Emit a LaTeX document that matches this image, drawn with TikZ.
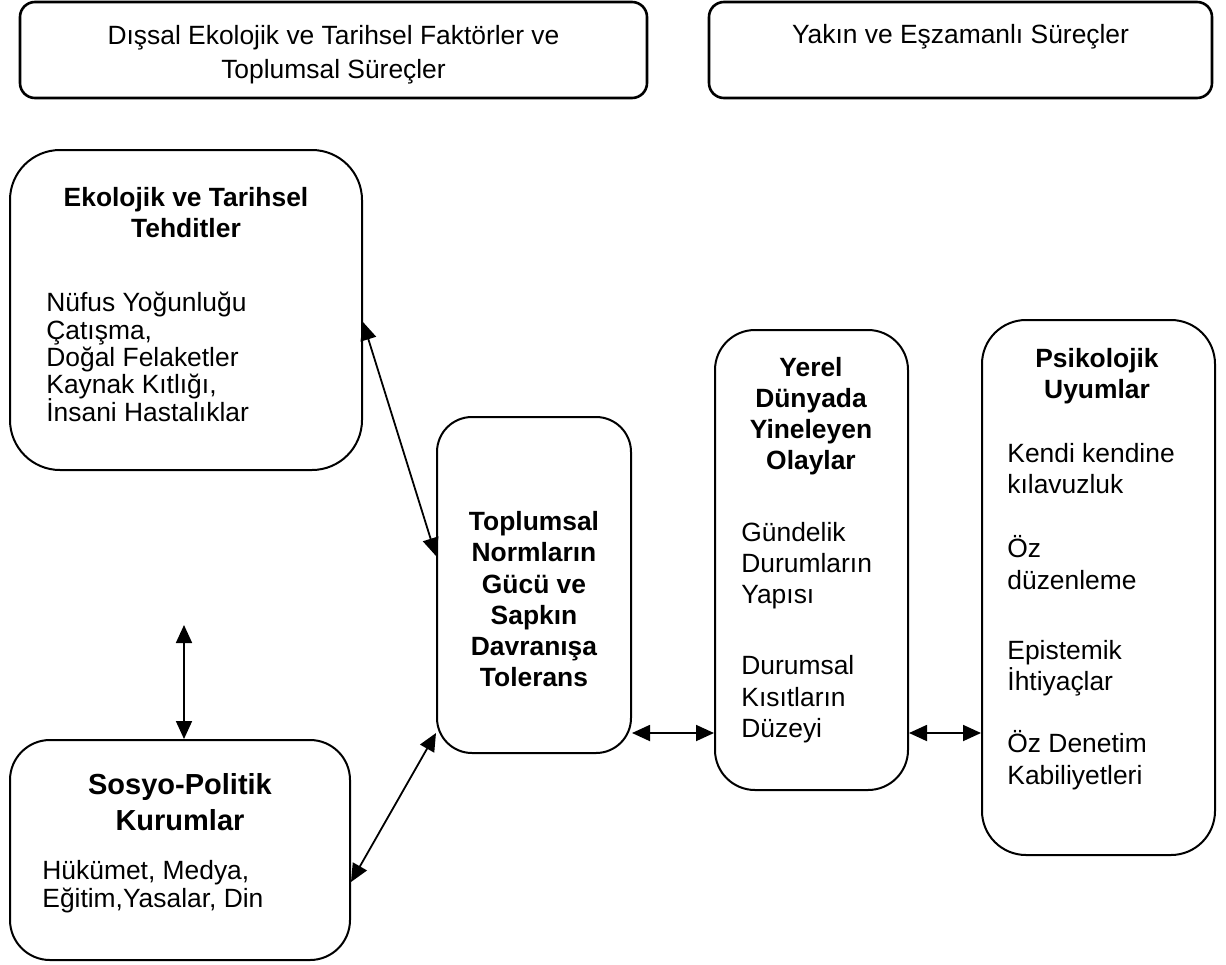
\documentclass[tikz,border=0pt]{standalone}
\usepackage{fontspec}
\setmainfont{Liberation Sans}
\usetikzlibrary{arrows.meta,calc}
\begin{document}
\begin{tikzpicture}[x=0.5pt,y=-0.5pt]
\tikzset{
  box/.style={draw, line width=1pt, inner sep=0pt},
  hdr/.style={draw, line width=1.3pt, rounded corners=7.5pt, inner sep=0pt},
  txt/.style={font=\fontsize{13.2}{15}\selectfont, inner sep=0pt},
  btxt/.style={font=\fontsize{13.2}{15}\selectfont\bfseries, inner sep=0pt},
  bigtxt/.style={font=\fontsize{14.5}{17}\selectfont\bfseries, inner sep=0pt},
  lft/.style={txt, anchor=base west},
  ctr/.style={txt, anchor=base},
  bctr/.style={btxt, anchor=base},
  biarrow/.style={{Triangle[length=9pt,width=8pt]}-{Triangle[length=9pt,width=8pt]}, line width=0.9pt},
}
\useasboundingbox (0,0) rectangle (1226,964);

% header boxes
\node[hdr, minimum width=313.5pt, minimum height=48pt] (hl) at (333.5,50) {};
\node[hdr, minimum width=251.5pt, minimum height=48pt] (hr) at (960.5,50) {};
\node[ctr] (hl1) at (333.5,44) {Dışsal Ekolojik ve Tarihsel Faktörler ve};
\node[ctr] (hl2) at (333.5,78) {Toplumsal Süreçler};
\node[ctr] (hr1) at (960.5,43) {Yakın ve Eşzamanlı Süreçler};

% main boxes
\node[box, rounded corners=25pt, minimum width=176pt, minimum height=160pt] (eco) at (186,310) {};
\node[box, rounded corners=20pt, minimum width=170pt, minimum height=110pt] (sos) at (180,850) {};
\node[box, rounded corners=17.5pt, minimum width=97pt, minimum height=168pt] (top) at (534,585) {};
\node[box, rounded corners=20pt, minimum width=96.5pt, minimum height=230pt] (yer) at (811.5,560) {};
\node[box, rounded corners=22pt, minimum width=116.5pt, minimum height=267.5pt] (psi) at (1098.5,587.5) {};

% eco texts
\node[bctr] (e1) at (186,206) {Ekolojik ve Tarihsel};
\node[bctr] (e2) at (186,237) {Tehditler};
\node[lft] (e3) at (46,311) {Nüfus Yoğunluğu};
\node[lft] (e4) at (46,339) {Çatışma,};
\node[lft] (e5) at (46,366) {Doğal Felaketler};
\node[lft] (e6) at (46,393) {Kaynak Kıtlığı,};
\node[lft] (e7) at (46,421) {İnsani Hastalıklar};

% sosyo texts
\node[bigtxt, anchor=base] (s1) at (180,794) {Sosyo-Politik};
\node[bigtxt, anchor=base] (s2) at (180,830) {Kurumlar};
\node[lft] (s3) at (42,879) {Hükümet, Medya,};
\node[lft] (s4) at (42,907) {Eğitim,Yasalar, Din};

% toplumsal texts
\node[bctr] (t1) at (534,530) {Toplumsal};
\node[bctr] (t2) at (534,561) {Normların};
\node[bctr] (t3) at (534,593) {Gücü ve};
\node[bctr] (t4) at (534,624) {Sapkın};
\node[bctr] (t5) at (534,655) {Davranışa};
\node[bctr] (t6) at (534,686) {Tolerans};

% yerel texts
\node[bctr] (y1) at (811,376) {Yerel};
\node[bctr] (y2) at (811,407) {Dünyada};
\node[bctr] (y3) at (811,438) {Yineleyen};
\node[bctr] (y4) at (811,469) {Olaylar};
\node[lft] (y5) at (741,541) {Gündelik};
\node[lft] (y6) at (741,572) {Durumların};
\node[lft] (y7) at (741,603) {Yapısı};
\node[lft] (y8) at (741,674) {Durumsal};
\node[lft] (y9) at (741,706) {Kısıtların};
\node[lft] (y10) at (741,737) {Düzeyi};

% psikolojik texts
\node[bctr] (p1) at (1097,367) {Psikolojik};
\node[bctr] (p2) at (1097,398) {Uyumlar};
\node[lft] (p3) at (1007,462) {Kendi kendine};
\node[lft] (p4) at (1007,493) {kılavuzluk};
\node[lft] (p5) at (1007,557) {Öz};
\node[lft] (p6) at (1007,589) {düzenleme};
\node[lft] (p7) at (1007,659) {Epistemik};
\node[lft] (p8) at (1007,690) {İhtiyaçlar};
\node[lft] (p9) at (1007,752) {Öz Denetim};
\node[lft] (p10) at (1007,784) {Kabiliyetleri};

% connectors
\coordinate (vtop) at (184,625);
\draw[biarrow] (eco.east |- 0,322) -- (top.west |- 0,556);
\draw[biarrow] (vtop) -- (sos.north -| vtop);
\draw[biarrow] (sos.east |- 0,882) -- (top.west |- 0,733);
\draw[biarrow] (top.east |- 0,733) -- (yer.west |- 0,733);
\draw[biarrow] (yer.east |- 0,733) -- (psi.west |- 0,733);
\end{tikzpicture}
\end{document}
